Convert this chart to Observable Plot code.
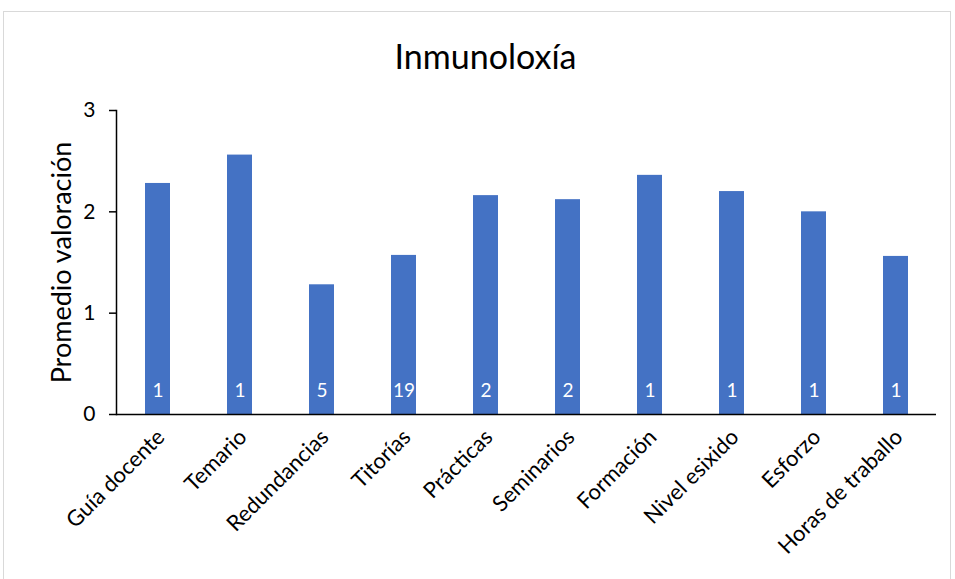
<!DOCTYPE html>
<html>
<head>
<meta charset="utf-8">
<script src="https://cdn.jsdelivr.net/npm/d3@7"></script>
<script src="https://cdn.jsdelivr.net/npm/@observablehq/plot@0.6"></script>
<style>
  html, body { margin: 0; padding: 0; background: #fff; }
  body { width: 955px; height: 579px; position: relative; overflow: hidden; font-family: Lato, "Open Sans", sans-serif; }
  #frame { position: absolute; left: 3px; top: 11px; width: 948px; height: 570px; border: 1px solid #d9d9d9; box-sizing: border-box; }
  #title { position: absolute; left: 8px; width: 955px; top: 35px; text-align: center; font-size: 34px; color: #000; }
  #chart { position: absolute; left: 0; top: 80px; }
</style>
</head>
<body>
<div id="frame"></div>
<div id="title">Inmunoloxía</div>
<div id="chart"></div>
<script>
const categories = ["Guía docente", "Temario", "Redundancias", "Titorías", "Prácticas", "Seminarios", "Formación", "Nivel esixido", "Esforzo", "Horas de traballo"];
const values = [2.28, 2.56, 1.28, 1.57, 2.16, 2.12, 2.36, 2.20, 2.00, 1.56];
const counts = [1, 1, 5, 19, 2, 2, 1, 1, 1, 1];
const yTicks = [0, 1, 2, 3];

const data = categories.map((c, i) => ({ category: c, value: values[i], n: counts[i] }));

const chart = Plot.plot({
  width: 955,
  height: 495,
  marginLeft: 116,
  marginRight: 19,
  marginTop: 30,
  marginBottom: 161,
  style: { fontFamily: "Lato, 'Open Sans', sans-serif", color: "#000", background: "transparent" },
  x: { domain: categories, paddingInner: 0.7, paddingOuter: 0.35, label: null },
  y: { domain: [0, 3], ticks: yTicks, label: null },
  marks: [
    Plot.barY(data, { x: "category", y: "value", fill: "#4472c4" }),
    Plot.text(data, { x: "category", y: 0, text: d => String(d.n), fill: "white", fontSize: 19, dy: -24 }),
    Plot.axisY({ ticks: yTicks, tickFormat: d3.format("d"), tickSize: 7, tickPadding: 14, fontSize: 21, stroke: "#000", strokeWidth: 1.5, label: null }),
    Plot.axisX({ tickSize: 0, tickRotate: -45, fontSize: 22, tickPadding: 19, dx: 3, label: null }),
    Plot.frame({ anchor: "left", stroke: "#000", strokeWidth: 1.5 }),
    Plot.ruleY([0], { stroke: "#000", strokeWidth: 1.5 }),
    Plot.text(["Promedio valoración"], { frameAnchor: "left", textAnchor: "middle", rotate: -90, dx: -54, fontSize: 27, text: d => d })
  ]
});
document.getElementById("chart").appendChild(chart);
</script>
</body>
</html>
